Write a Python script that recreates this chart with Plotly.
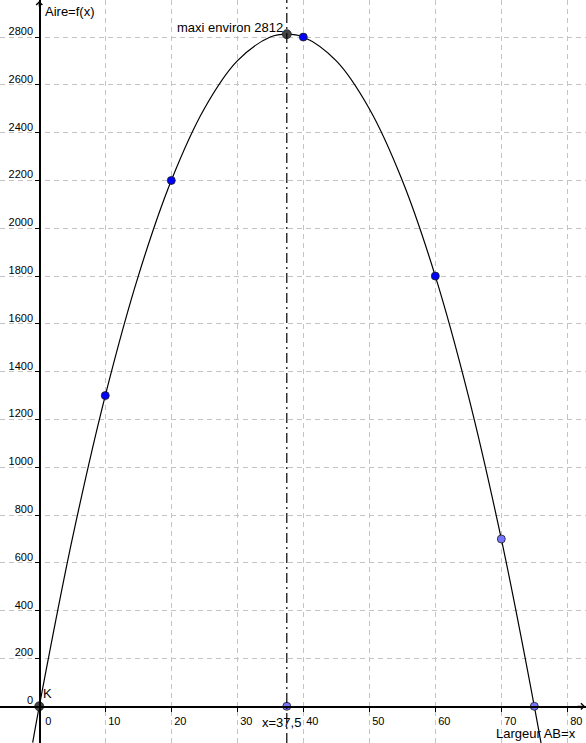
import plotly.graph_objects as go

# Curve values (Aire = f(x))
curve_x = [-1, 0, 5, 10, 15, 20, 25, 30, 35, 37.5, 40, 45, 50, 55, 60, 65, 70, 75, 77]
curve_y = [-152, 0, 700, 1300, 1800, 2200, 2500, 2700, 2800, 2812, 2800, 2700, 2500, 2200, 1800, 1300, 700, 0, -308]

# Marked points
blue_x = [10, 20, 40, 60]
blue_y = [1300, 2200, 2800, 1800]
light_x = [70, 37.5, 75]
light_y = [700, 0, 0]
dark_x = [0, 37.5]
dark_y = [0, 2812]

x_max = 37.5
y_max = 2812

x_ticks = [0, 10, 20, 30, 40, 50, 60, 70, 80]
y_ticks = [0, 200, 400, 600, 800, 1000, 1200, 1400, 1600, 1800, 2000, 2200, 2400, 2600, 2800]

x_range = [-5.95, 82.83]
y_range = [-153.6, 2955]

FONT = "Liberation Sans"

fig = go.Figure()

fig.add_trace(go.Scatter(
    x=curve_x, y=curve_y, mode="lines", line=dict(color="black", width=1.2, shape="spline"),
    hoverinfo="skip", showlegend=False))

fig.add_shape(type="line", x0=x_max, x1=x_max, y0=0, y1=1, xref="x", yref="paper",
              line=dict(color="black", width=1.2, dash="10px,4px,2px,4px"))

marker_line = dict(color="#202020", width=0.8)
fig.add_trace(go.Scatter(x=blue_x, y=blue_y, mode="markers",
                         marker=dict(size=8, color="#0000ff", line=marker_line), showlegend=False))
fig.add_trace(go.Scatter(x=light_x, y=light_y, mode="markers",
                         marker=dict(size=8, color="#7575ff", line=marker_line), showlegend=False))
fig.add_trace(go.Scatter(x=dark_x, y=dark_y, mode="markers",
                         marker=dict(size=9, color="#444444", line=marker_line), showlegend=False))

ann_font = dict(family=FONT, size=13, color="black")
annotations = [
    dict(x=x_max, y=y_max, text="maxi environ 2812", showarrow=False, xanchor="right", yanchor="bottom",
         xshift=-2, yshift=-3, font=ann_font),
    dict(x=x_max, y=0, text="x=37,5", showarrow=False, xanchor="center", yanchor="top",
         xshift=-5, yshift=-7, font=ann_font),
    dict(x=0, y=0, text="K", showarrow=False, xanchor="left", yanchor="bottom",
         xshift=2, yshift=3, font=ann_font),
    dict(x=0, y=1, xref="x", yref="paper", text="Aire=f(x)", showarrow=False, xanchor="left",
         yanchor="top", xshift=4, yshift=-2, font=ann_font),
    dict(x=1, y=0, xref="paper", yref="y", text="Largeur AB=x", showarrow=False, xanchor="right",
         yanchor="top", xshift=-8, yshift=-18, font=ann_font),
    # axis arrows
    dict(x=0, y=1, xref="x", yref="paper", ax=0, ay=8, text="",
         showarrow=True, arrowhead=4, arrowsize=1, arrowwidth=1.2, arrowcolor="black"),
    dict(x=1, y=0, xref="paper", yref="y", ax=-10, ay=0, text="",
         showarrow=True, arrowhead=4, arrowsize=1, arrowwidth=1.2, arrowcolor="black"),
]

tick_font = dict(family=FONT, size=11, color="black")
fig.update_layout(
    width=586, height=743,
    margin=dict(l=0, r=0, t=0, b=0),
    paper_bgcolor="white", plot_bgcolor="white",
    showlegend=False,
    annotations=annotations,
    xaxis=dict(range=x_range, tickvals=x_ticks, ticktext=[str(v) for v in x_ticks],
               anchor="free", position=(0 - y_range[0]) / (y_range[1] - y_range[0]),
               showline=True, linecolor="black", linewidth=1.5,
               ticks="outside", ticklen=4, tickcolor="black", tickwidth=1,
               tickfont=tick_font, ticklabelshift=9, ticklabelstandoff=0,
               showgrid=True, gridcolor="#c4c4c4", gridwidth=1, griddash="5px,4px",
               zeroline=False, automargin=False, fixedrange=True),
    yaxis=dict(range=y_range, tickvals=y_ticks, ticktext=[str(v) for v in y_ticks],
               anchor="free", position=(0 - x_range[0]) / (x_range[1] - x_range[0]),
               showline=True, linecolor="black", linewidth=1.5,
               ticks="outside", ticklen=4, tickcolor="black", tickwidth=1,
               tickfont=tick_font, ticklabelshift=-6, ticklabelstandoff=0,
               showgrid=True, gridcolor="#c4c4c4", gridwidth=1, griddash="5px,4px",
               zeroline=False, automargin=False, fixedrange=True),
)

fig.write_html("out.html",
               config={"displayModeBar": False, "staticPlot": True},
               post_script="document.body.style.margin='0';document.body.style.overflow='hidden';")
